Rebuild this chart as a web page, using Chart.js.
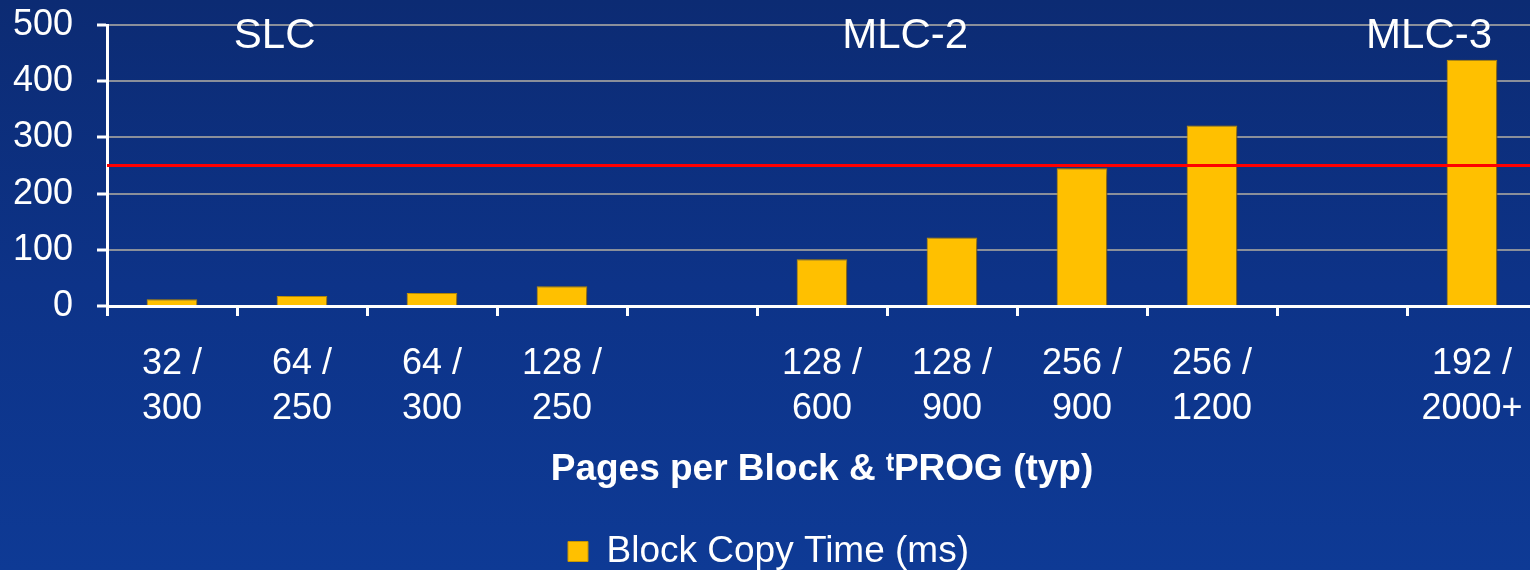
<html>
<head>
<style>
    html, body { margin: 0; padding: 0; overflow: hidden; }
    body {
        width: 1530px;
        height: 570px;
        background: linear-gradient(to bottom, #0c2b73 0%, #0d3388 50%, #0e3a95 100%);
    }
    #copy_chart { display: block; }
</style>
</head>
<body>
<canvas id="copy_chart" width="1537" height="570"></canvas>
<script src="https://cdn.jsdelivr.net/npm/chart.js"></script>

<script>
    // categories: pages per block / tPROG (empty slots separate the groups)
    const categories = [
        ["32 /", "300"], ["64 /", "250"], ["64 /", "300"], ["128 /", "250"], "",
        ["128 /", "600"], ["128 /", "900"], ["256 /", "900"], ["256 /", "1200"], "",
        ["192 /", "2000+"]
    ];
    const copyTime = [12, 18, 23, 35, null, 83, 122, 245, 321, null, 438];
    const yTicks = [0, 100, 200, 300, 400, 500];
    const limitValue = 250;
    const groupNames = ["SLC", "MLC-2", "MLC-3"];
    const groupCenters = [0.79, 5.64, 9.67];   // in category index units
    const groupLabelValue = 480;

    const FONT = "'Liberation Sans', Arial, sans-serif";

    const barShadow = {
        id: "barShadow",
        beforeDatasetsDraw(chart) {
            const ctx = chart.ctx;
            ctx.save();
            ctx.shadowColor = "rgba(0, 5, 40, 0.55)";
            ctx.shadowBlur = 8;
            ctx.shadowOffsetX = 6;
            ctx.shadowOffsetY = 3;
        },
        afterDatasetsDraw(chart) {
            chart.ctx.restore();
        }
    };

    const limitLine = {
        id: "limitLine",
        afterDatasetsDraw(chart) {
            const ctx = chart.ctx;
            const y = chart.scales.y.getPixelForValue(limitValue);
            ctx.save();
            ctx.strokeStyle = "#ff0000";
            ctx.lineWidth = 3;
            ctx.beginPath();
            ctx.moveTo(chart.chartArea.left, y);
            ctx.lineTo(chart.chartArea.right, y);
            ctx.stroke();
            ctx.restore();
        }
    };

    const groupLabels = {
        id: "groupLabels",
        afterDraw(chart) {
            const ctx = chart.ctx;
            const x = chart.scales.x;
            const y = chart.scales.y.getPixelForValue(groupLabelValue);
            ctx.save();
            ctx.fillStyle = "#ffffff";
            ctx.font = "42px " + FONT;
            ctx.textAlign = "center";
            ctx.textBaseline = "middle";
            groupNames.forEach((name, i) => {
                ctx.fillText(name, x.getPixelForValue(groupCenters[i]), y);
            });
            ctx.restore();
        }
    };

    document.addEventListener("DOMContentLoaded", () => {
        const ctx = document.getElementById("copy_chart").getContext("2d");

        new Chart(ctx, {
            type: "bar",
            data: {
                labels: categories,
                datasets: [{
                    label: "Block Copy Time (ms)",
                    data: copyTime,
                    backgroundColor: "#ffc000",
                    borderColor: "#c99700",
                    borderWidth: 1,
                    barPercentage: 0.39,
                    categoryPercentage: 1
                }]
            },
            options: {
                responsive: false,
                animation: false,
                layout: {
                    padding: { top: 25, right: 0, bottom: -10, left: 0 }
                },
                plugins: {
                    tooltip: { enabled: false },
                    legend: {
                        position: "bottom",
                        labels: {
                            color: "#ffffff",
                            font: { family: FONT, size: 37 },
                            boxWidth: 20,
                            boxHeight: 20,
                            padding: 2
                        }
                    }
                },
                scales: {
                    x: {
                        offset: true,
                        afterFit: (scale) => {
                            scale.height = 225;
                            scale.paddingLeft = 0;
                            scale.paddingRight = 0;
                        },
                        border: { color: "#ffffff", width: 3 },
                        grid: {
                            display: true,
                            drawOnChartArea: false,
                            drawTicks: true,
                            tickLength: 10,
                            color: "#ffffff",
                            lineWidth: 3
                        },
                        ticks: {
                            color: "#ffffff",
                            font: { family: FONT, size: 36, lineHeight: 1.25 },
                            padding: 26,
                            maxRotation: 0,
                            autoSkip: false
                        },
                        title: {
                            display: true,
                            text: "Pages per Block & \u1D57PROG (typ)",
                            color: "#ffffff",
                            font: { family: FONT, size: 37, weight: "bold" },
                            padding: { top: 0, bottom: 39 }
                        }
                    },
                    y: {
                        min: 0,
                        max: 500,
                        afterFit: (scale) => {
                            scale.width = 107;
                            scale.paddingTop = 0;
                            scale.paddingBottom = 0;
                        },
                        afterBuildTicks: (scale) => {
                            scale.ticks = yTicks.map((v) => ({ value: v }));
                        },
                        border: { color: "#ffffff", width: 3 },
                        grid: {
                            color: "#8a8f9a",
                            lineWidth: 2,
                            tickColor: "#ffffff",
                            tickLength: 10,
                            tickWidth: 3
                        },
                        ticks: {
                            color: "#ffffff",
                            font: { family: FONT, size: 36 },
                            padding: 24
                        }
                    }
                }
            },
            plugins: [barShadow, limitLine, groupLabels]
        });
    });
</script>
</body>
</html>
